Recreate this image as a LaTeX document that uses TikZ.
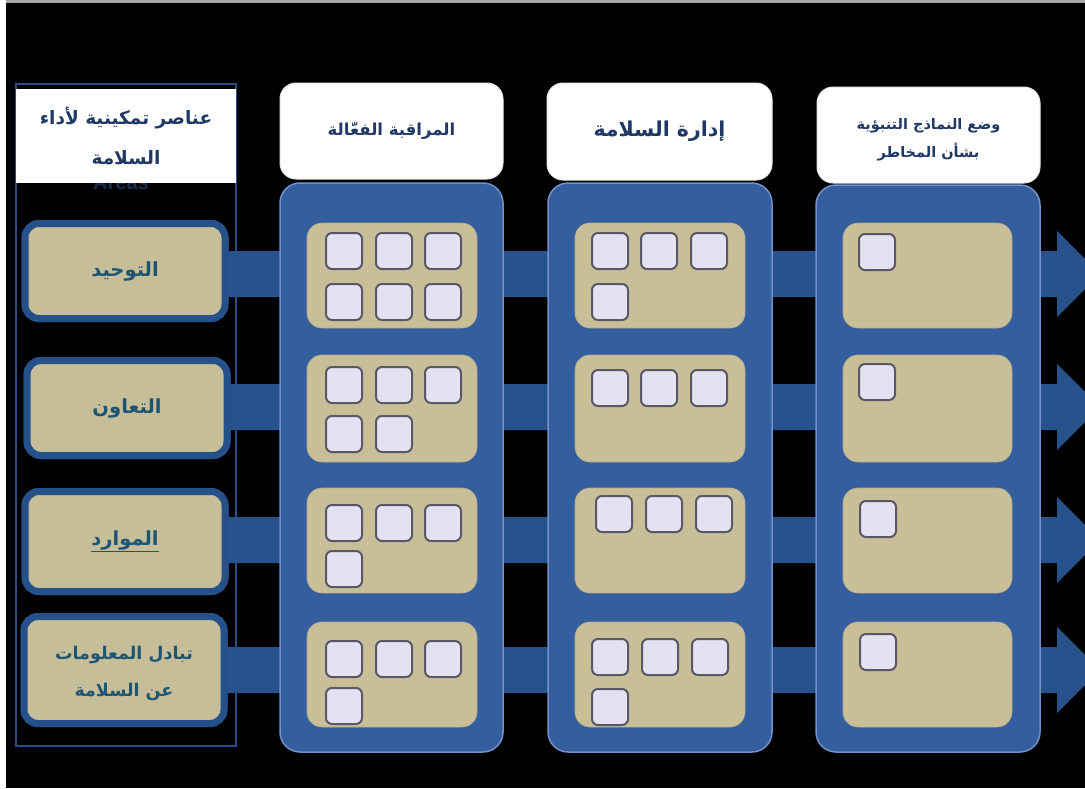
\documentclass[tikz,border=0pt]{standalone}
\usepackage{fontspec}
\TeXXeTstate=1
\newfontfamily\arabicfont[Script=Arabic]{DejaVu Sans}
\setsansfont{Liberation Sans}
\usetikzlibrary{calc}

\definecolor{navy}{RGB}{31,56,100}
\definecolor{tealtext}{RGB}{30,85,115}
\definecolor{barblue}{RGB}{40,82,140}
\definecolor{boxrim}{RGB}{38,80,138}
\definecolor{tan}{RGB}{197,190,152}
\definecolor{paneltan}{RGB}{200,191,152}
\definecolor{colblue}{RGB}{52,94,158}
\definecolor{colrim}{RGB}{115,145,200}
\definecolor{framelt}{RGB}{45,78,132}
\definecolor{sqfill}{RGB}{228,226,240}
\definecolor{sqrim}{RGB}{88,88,104}

\tikzset{
  areabox/.style={draw=boxrim, line width=7pt, fill=tan, rounded corners=14pt,
    minimum width=200pt, inner sep=0pt, text=tealtext,
    font=\arabicfont\bfseries\fontsize{19.5}{37}\selectfont, align=center},
  smallarea/.style={font=\arabicfont\bfseries\fontsize{17.5}{37}\selectfont},
  colbody/.style={draw=colrim, line width=1.5pt, fill=colblue, rounded corners=20pt,
    inner sep=0pt},
  headbox/.style={fill=white, draw=white!85!colblue, line width=1pt, rounded corners=16pt,
    inner sep=0pt, text=navy, align=center},
  panel/.style={fill=paneltan, draw=paneltan!90!black, line width=0.6pt,
    rounded corners=15pt, inner sep=0pt},
  sqbox/.style={fill=sqfill, draw=sqrim, line width=2pt, rounded corners=6pt,
    minimum width=36pt, minimum height=36pt, inner sep=0pt, anchor=north west},
}

\newcommand{\sqat}[3]{\node[sqbox] (#1) at (#2,#3) {};}

\begin{document}
\begin{tikzpicture}[x=1pt,y=-1pt]
\useasboundingbox (0,0) rectangle (1085,788);
\clip (0,0) rectangle (1085,788);

% page edge and black ground
\fill[white] (0,0) rectangle (1085,788);
\fill[black] (6,3) rectangle (1085,788);
\fill[gray!70] (6,0) rectangle (1085,3);

% frame around the enabling areas
\draw[framelt, line width=2.5pt] (16,84) rectangle (236,746);

% tips of the row arrows
\coordinate (T1) at (1100,274);
\coordinate (T2) at (1100,407);
\coordinate (T3) at (1100,540);
\coordinate (T4) at (1100,670);

% enabling areas
\node[areabox, minimum height=95pt]  (L1) at (125,271) {};
\node[areabox, minimum height=95pt]  (L2) at (127,408) {};
\node[areabox, minimum height=100pt] (L3) at (125,541.5) {};
\node[areabox, minimum height=107pt] (L4) at (124,670) {};

% row arrows running through the columns
\foreach \i in {1,...,4}{
  \path let \p1=(L\i.east), \p2=(T\i) in
    [fill=barblue] (\x1-8pt,\y2+23pt) -- (\x2-43pt,\y2+23pt) -- (\x2-43pt,\y2+43pt)
    -- (\p2) -- (\x2-43pt,\y2-43pt) -- (\x2-43pt,\y2-23pt) -- (\x1-8pt,\y2-23pt) -- cycle;
}
% boxes drawn again over the arrow tails, with their labels
\node[areabox, minimum height=95pt]  (A1) at (L1) {\beginR التوحيد\endR};
\node[areabox, minimum height=95pt]  (A2) at (L2) {\beginR التعاون\endR};
\node[areabox, minimum height=100pt] (A3) at (L3) {\underline{\beginR الموارد\endR}};
\node[areabox, minimum height=107pt] (A4) at (L4) {};
\node[smallarea, text=tealtext, align=center, inner sep=0pt] (A4t) at ([yshift=-3pt]L4.center)
  {\beginR تبادل المعلومات\endR\\\beginR عن السلامة\endR};

% column bodies
\node[colbody, minimum width=223pt, minimum height=569pt] (C1) at (391.5,467.5) {};
\node[colbody, minimum width=224pt, minimum height=569pt] (C2) at (660,467.5) {};
\node[colbody, minimum width=224pt, minimum height=567pt] (C3) at (928,468.5) {};

% column headers
\node[headbox, minimum width=223pt, minimum height=96pt,
  font=\arabicfont\bfseries\fontsize{16.5}{20}\selectfont] (H1) at (391.5,131)
  {\beginR المراقبة الفعّالة\endR};
\node[headbox, minimum width=225pt, minimum height=97pt,
  font=\arabicfont\bfseries\fontsize{20.5}{24}\selectfont] (H2) at (659.5,131.5)
  {\beginR إدارة السلامة\endR};
\node[headbox, minimum width=223pt, minimum height=96pt] (H3) at (928.5,135) {};
\node[text=navy, align=center, inner sep=0pt,
  font=\arabicfont\bfseries\fontsize{14.5}{28}\selectfont] (H3t) at (928.5,140)
  {\beginR وضع النماذج التنبؤية\endR\\\beginR بشأن المخاطر\endR};

% panels
\foreach \c/\x/\w in {1/392/170, 2/660/170, 3/927.5/169}{
  \node[panel, minimum width=\w pt, minimum height=105pt] (P\c a) at (\x,275.5) {};
  \node[panel, minimum width=\w pt, minimum height=107pt] (P\c b) at (\x,408.5) {};
  \node[panel, minimum width=\w pt, minimum height=105pt] (P\c c) at (\x,540.5) {};
  \node[panel, minimum width=\w pt, minimum height=105pt] (P\c d) at (\x,674.5) {};
}

% items, first column
\sqat{q1a1}{325}{232}\sqat{q1a2}{375}{232}\sqat{q1a3}{424}{232}
\sqat{q1a4}{325}{283}\sqat{q1a5}{375}{283}\sqat{q1a6}{424}{283}
\sqat{q1b1}{325}{366}\sqat{q1b2}{375}{366}\sqat{q1b3}{424}{366}
\sqat{q1b4}{325}{415}\sqat{q1b5}{375}{415}
\sqat{q1c1}{325}{504}\sqat{q1c2}{375}{504}\sqat{q1c3}{424}{504}
\sqat{q1c4}{325}{550}
\sqat{q1d1}{325}{640}\sqat{q1d2}{375}{640}\sqat{q1d3}{424}{640}
\sqat{q1d4}{325}{687}
% items, second column
\sqat{q2a1}{591}{232}\sqat{q2a2}{640}{232}\sqat{q2a3}{690}{232}
\sqat{q2a4}{591}{283}
\sqat{q2b1}{591}{369}\sqat{q2b2}{640}{369}\sqat{q2b3}{690}{369}
\sqat{q2c1}{595}{495}\sqat{q2c2}{645}{495}\sqat{q2c3}{695}{495}
\sqat{q2d1}{591}{638}\sqat{q2d2}{641}{638}\sqat{q2d3}{691}{638}
\sqat{q2d4}{591}{688}
% items, third column
\sqat{q3a1}{858}{233}
\sqat{q3b1}{858}{363}
\sqat{q3c1}{859}{500}
\sqat{q3d1}{859}{633}

% title of the enabling areas
\node[text=navy!80!black, font=\sffamily\bfseries\fontsize{20}{22}\selectfont] (AR) at (121,183) {Areas};
\node[fill=white, minimum width=220pt, minimum height=94pt, inner sep=0pt, text=navy,
  align=center, font=\arabicfont\bfseries\fontsize{18.5}{40}\selectfont] (LT) at (126,136)
  {\beginR عناصر تمكينية لأداء\endR\\\beginR السلامة\endR};
\end{tikzpicture}
\end{document}
